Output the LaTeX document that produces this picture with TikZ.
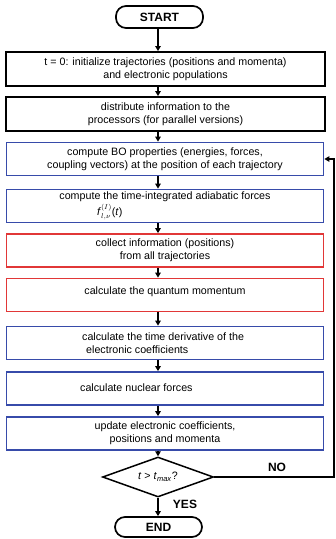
\documentclass[tikz,border=0pt]{standalone}
\usepackage{fontspec}
\setmainfont{Liberation Sans}
\usetikzlibrary{shapes.geometric,arrows.meta}
\definecolor{boxblue}{RGB}{55,75,170}
\definecolor{boxred}{RGB}{225,55,55}
\begin{document}
\begin{tikzpicture}[x=1pt,y=-1pt,
  every node/.style={font=\fontsize{10.7}{13}\selectfont},
  box/.style={line width=1.8pt,minimum width=317pt,minimum height=33pt,inner sep=0pt,align=center},
  blk/.style={box,draw=black,line width=1.9pt,minimum width=319pt,minimum height=34pt},
  bbox/.style={box,draw=boxblue},
  rbox/.style={box,draw=boxred},
  txt/.style={inner sep=0pt,align=center},
  term/.style={draw=black,line width=1.7pt,rounded corners=10pt,minimum width=87pt,inner sep=0pt,font=\fontsize{12}{14}\selectfont\bfseries},
  dia/.style={draw=black,line width=1.5pt,diamond,aspect=2.75,minimum width=111pt,minimum height=40pt,inner sep=0pt},
  lbl/.style={inner sep=0pt,font=\fontsize{12}{14}\selectfont\bfseries},
  arr/.style={line width=1.4pt,-{Triangle[length=5pt,width=5.5pt]}}
]
\useasboundingbox (0,0) rectangle (336,539);
\node[term,minimum height=22pt] (start) at (159.5,17) {START};
\node[blk] (b1) at (165.5,69) {t = 0: initialize trajectories (positions and momenta)\\and electronic populations};
\node[blk] (b2) at (165.5,114) {distribute information to the\\processors (for parallel versions)};
\node[bbox] (b3) at (165,159) {compute BO properties (energies, forces,\\coupling vectors) at the position of each trajectory};
\node[bbox] (b4) at (165,206) {};
\node[txt] (b4t) at (165,197) {compute the time-integrated adiabatic forces};
\node[txt,anchor=west] (b4f) at (97,212) {\textit{f}$^{(I)}_{l,\nu}$(\textit{t})};
\node[rbox] (b5) at (165,250.5) {collect information (positions)\\from all trajectories};
\node[rbox] (b6) at (165,295) {};
\node[txt] (b6t) at (165,292) {calculate the quantum momentum};
\node[bbox] (b7) at (165,343) {};
\node[txt,anchor=west,align=left] (b7t) at (82,343.5) {calculate the time derivative of the\\\hspace{4pt}electronic coefficients};
\node[bbox] (b8) at (165,388.5) {};
\node[txt,anchor=west] (b8t) at (80,388) {calculate nuclear forces};
\node[bbox] (b9) at (165,433.5) {update electronic coefficients,\\positions and momenta};
\node[dia] (d) at (158,477) {\textit{t} > \textit{t}\textsubscript{\textit{max}}?};
\node[term,minimum height=20pt] (end) at (158.5,527) {END};
\node[lbl] (no) at (277,467) {NO};
\node[lbl] (yes) at (185,504) {YES};
\coordinate (rt) at (334,477);
\draw[arr] (start.south -| d) -- (b1.north -| d);
\draw[arr] (b1.south -| d) -- (b2.north -| d);
\draw[arr] (b2.south -| d) -- (b3.north -| d);
\draw[arr] (b3.south -| d) -- (b4.north -| d);
\draw[arr] (b4.south -| d) -- (b5.north -| d);
\draw[arr] (b5.south -| d) -- (b6.north -| d);
\draw[arr] (b6.south -| d) -- (b7.north -| d);
\draw[arr] (b7.south -| d) -- (b8.north -| d);
\draw[arr] (b8.south -| d) -- (b9.north -| d);
\draw[arr] (b9.south -| d) -- (d.north);
\draw[arr] (d.south) -- (end.north -| d);
\draw[arr] (d.east) -- (rt) |- (b3.east);
\end{tikzpicture}
\end{document}
